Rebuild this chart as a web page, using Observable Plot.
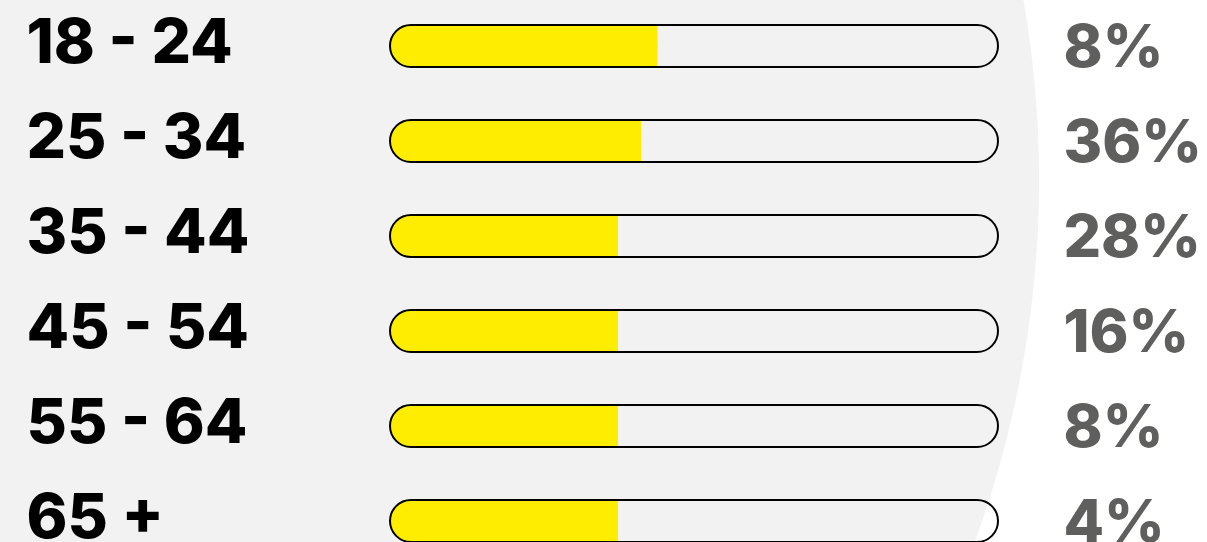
<!DOCTYPE html>
<html>
<head>
<meta charset="utf-8">
<script src="https://cdn.jsdelivr.net/npm/d3@7"></script>
<script src="https://cdn.jsdelivr.net/npm/@observablehq/plot@0.6"></script>
<style>
  html, body { margin: 0; padding: 0; background: #ffffff; }
  #chart {
    width: 1207px; height: 542px; overflow: hidden;
    background: radial-gradient(circle 1050px at -11px 180px, #f2f2f2 1049.5px, #ffffff 1050.5px);
  }
  #chart svg { display: block; }
</style>
</head>
<body>
<div id="chart"></div>
<script>
// Age groups (row labels)
const ages = ["18 - 24", "25 - 34", "35 - 44", "45 - 54", "55 - 64", "65 +"];
// Share shown as text on the right (percent)
const shares = [8, 36, 28, 16, 8, 4];
// Length of the yellow fill as drawn, in percent of the track
const fills = [44, 41.3, 37.5, 37.5, 37.5, 37.5];

const rows = ages.map((age, i) => ({age, share: shares[i], fill: fills[i]}));

const font = "Inter, 'Open Sans', sans-serif";

const chart = Plot.plot({
  width: 1207,
  height: 542,
  marginLeft: 390,
  marginRight: 209,
  marginTop: 0,
  marginBottom: 0,
  style: {background: "transparent", overflow: "visible"},
  x: {domain: [0, 100], axis: null},
  y: {type: "band", domain: ages, range: [24.5, 541.5], paddingInner: 0.558, paddingOuter: 0, axis: null},
  marks: [
    // yellow fill, rounded on the left
    Plot.barX(rows, {x1: 0, x2: "fill", y: "age", fill: "#ffed00", rx: 21}),
    // square off the right end of the fill
    Plot.barX(rows, {x1: 10, x2: "fill", y: "age", fill: "#ffed00"}),
    // pill-shaped track outline
    Plot.barX(rows, {x1: 0, x2: 100, y: "age", fill: "none", stroke: "#000", strokeWidth: 2, rx: 21}),
    // age labels on the left
    Plot.text(rows, {
      y: "age", text: "age", frameAnchor: "left", textAnchor: "start", dx: -364, dy: -3,
      fill: "#000", fontFamily: font, fontWeight: 800, fontSize: 62
    }),
    // share labels on the right
    Plot.text(rows, {
      y: "age", text: d => d.share + "%", frameAnchor: "right", textAnchor: "start", dx: 65, dy: 2,
      fill: "#5f605d", fontFamily: font, fontWeight: 800, fontSize: 59
    })
  ]
});
document.getElementById("chart").appendChild(chart);
</script>
</body>
</html>
